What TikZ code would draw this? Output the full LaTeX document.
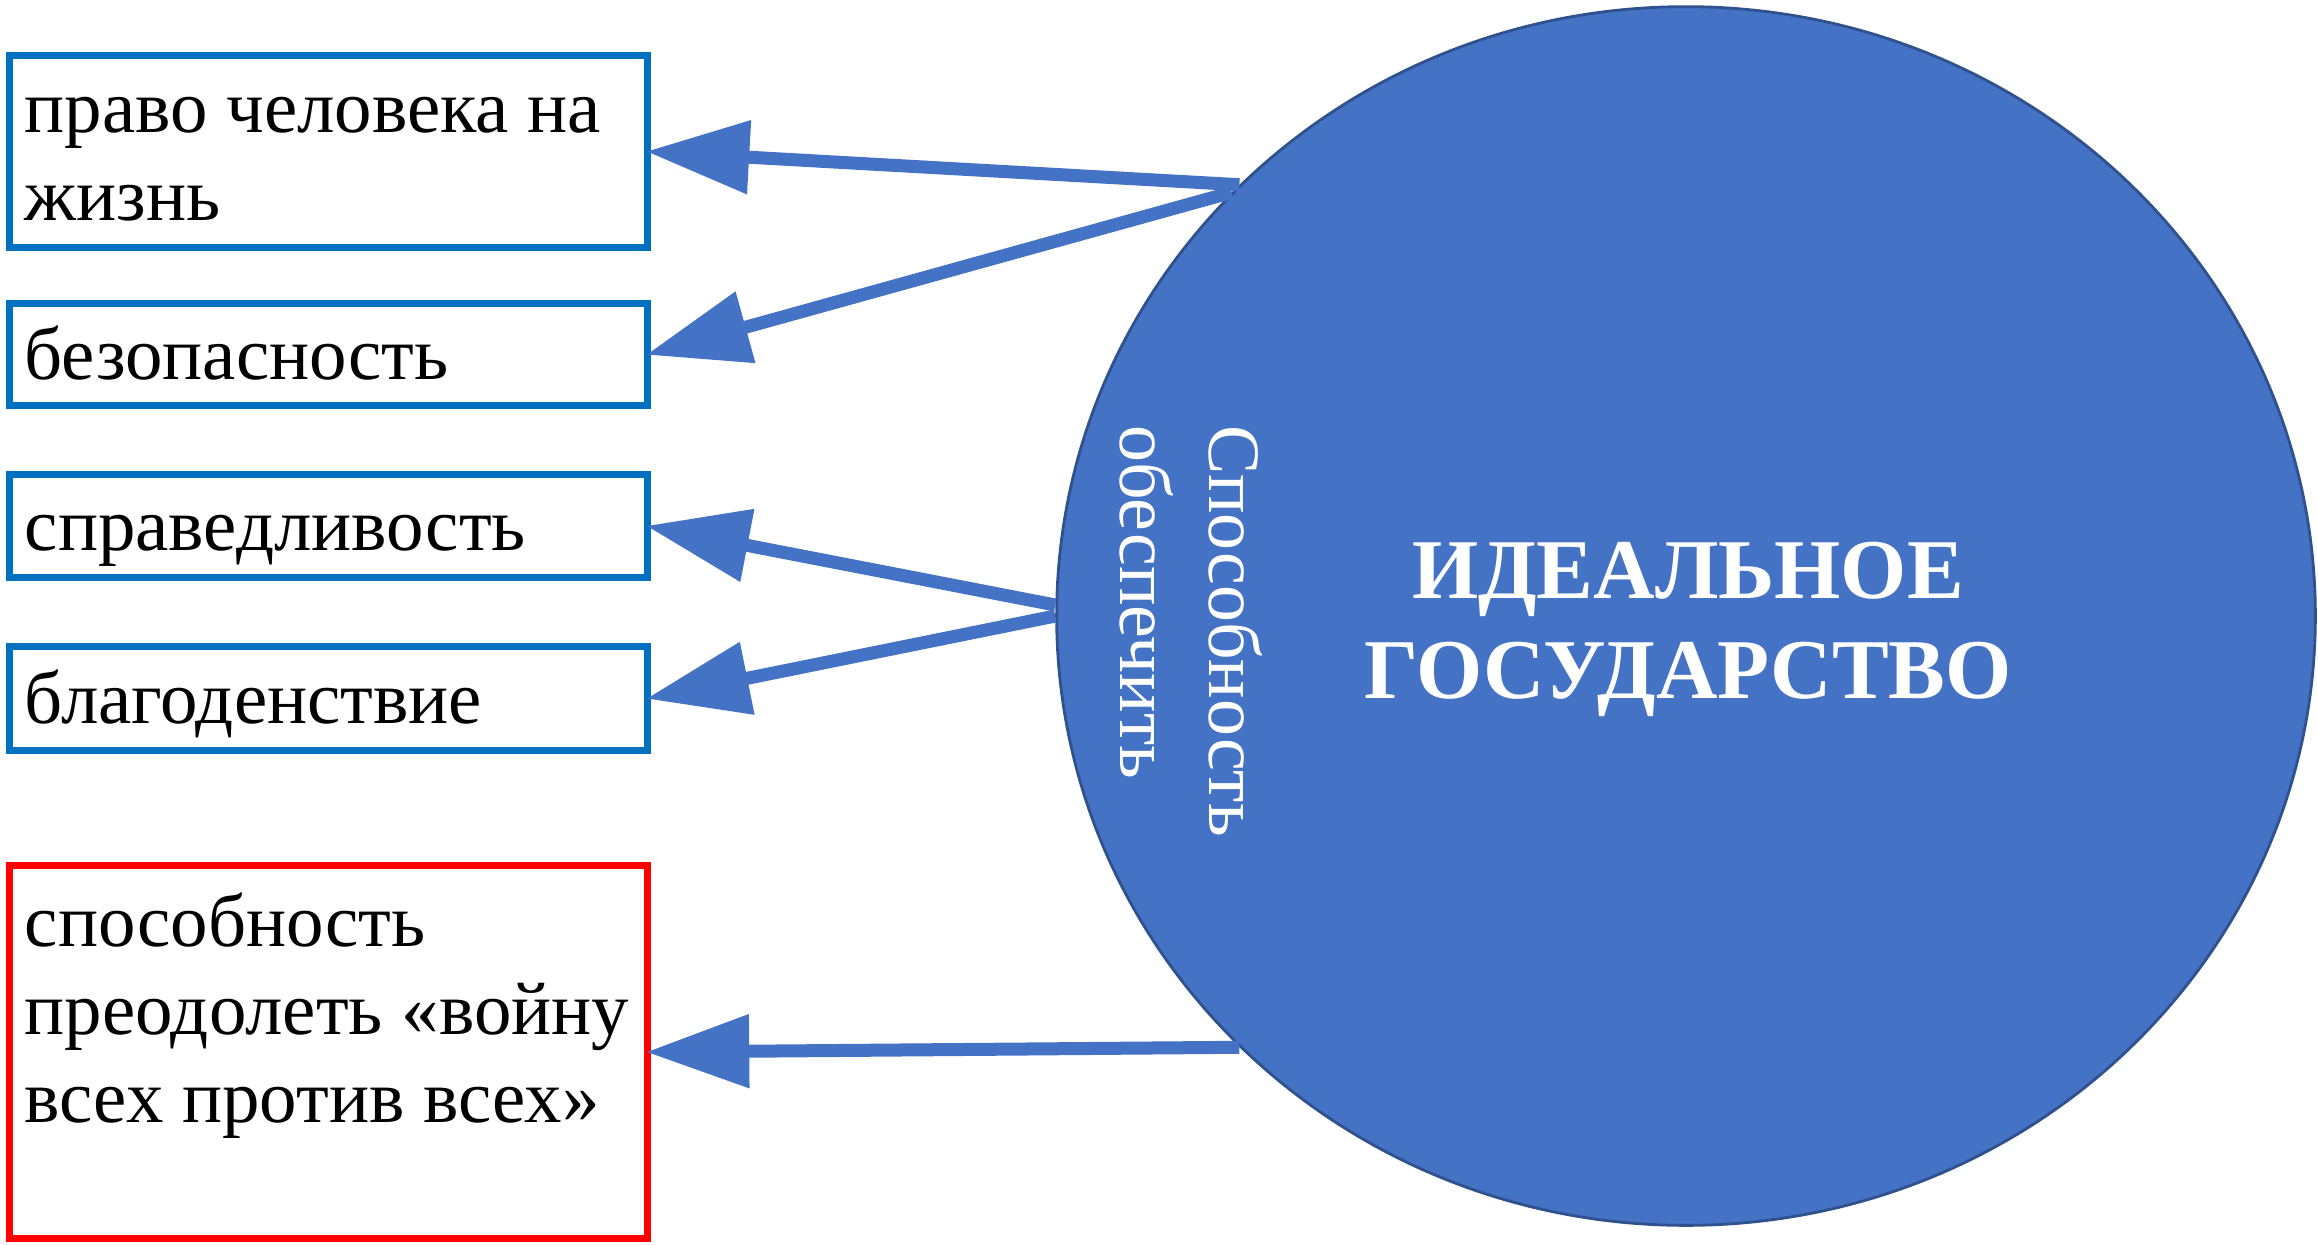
\documentclass[tikz,border=0pt]{standalone}
\usepackage{fontspec}
\setmainfont{Liberation Serif}
\usepackage{xcolor}
\usepackage{tikz}
\usetikzlibrary{shapes.geometric, arrows.meta, positioning, calc}
\definecolor{boxblue}{HTML}{0070C0}
\definecolor{boxred}{HTML}{FF0000}
\definecolor{stateblue}{HTML}{4472C4}
\definecolor{stateedge}{HTML}{2F528F}
\tikzset{
    goal/.style={
        rectangle,
        line width=2pt,
        draw=boxblue,
        fill=white,
        text width=6.07cm,
        inner xsep=0.15cm,
        inner ysep=0pt,
        outer sep=0pt,
        align=flush left,
        font=\fontsize{21.3pt}{25pt}\selectfont,
    },
    oneline/.style={
        text height=18pt,
        text depth=4pt,
    },
    threat/.style={
        goal,
        draw=boxred,
    },
    ideal/.style={
        ellipse,
        draw=stateedge,
        fill=stateblue,
        line width=0.8pt,
        minimum width=12.58cm,
        minimum height=12.18cm,
        inner sep=0pt,
    },
    flow/.style={
        color=stateblue,
        line width=0.13cm,
        -{Triangle[length=10.2mm,width=7.4mm,line width=0.5pt]},
    },
}

\begin{document}
\begin{tikzpicture}[x=0.01cm, y=-0.01cm]
      \useasboundingbox (0,0) rectangle (2318,1244);

      \node [ideal] (state) at (1686,616) {};
      \node [text=white, align=center, font=\fontsize{24.2pt}{28.5pt}\selectfont\bfseries] (title) at (1688,629) {ИДЕАЛЬНОЕ\\ГОСУДАРСТВО};
      \node [rotate=-90, text=white, align=left, inner sep=0pt,
             font=\fontsize{21pt}{25.5pt}\selectfont] (means) at (1191,631) {Способность\\обеспечить};

      \node [goal, minimum height=1.92cm, text height=18pt, text depth=29pt] (life) at (328.5,151.5) {право человека на\\жизнь};
      \node [goal, oneline, minimum height=1.02cm] (safety) at (328.5,354.5) {безопасность};
      \node [goal, oneline, minimum height=1.03cm] (justice) at (328.5,526) {справедливость};
      \node [goal, oneline, minimum height=1.04cm] (welfare) at (328.5,698.5) {благоденствие};
      \node [threat, minimum height=3.73cm] (peace) at (328.5,1052) {способность\\преодолеть «войну\\всех против всех»\\\mbox{}};

      \draw[flow] (state.136) -- (life.east);
      \draw[flow] (state.137) -- (safety.east);
      \draw[flow] (state.179.2) -- (justice.east);
      \draw[flow] (state.180.8) -- (welfare.east);
      \draw[flow] (state.224) -- (peace.east);
    \end{tikzpicture}
\end{document}
